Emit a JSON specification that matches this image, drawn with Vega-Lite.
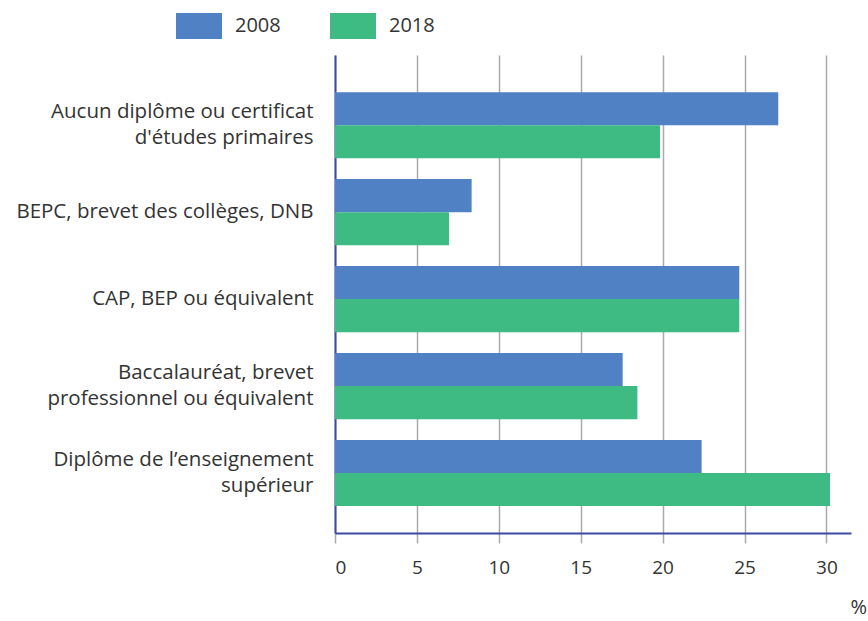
{
  "$schema": "https://vega.github.io/schema/vega-lite/v6.json",
  "autosize": {"type": "none"},
  "width": 516,
  "height": 478,
  "padding": {"left": 335, "top": 55, "right": 17, "bottom": 88},
  "background": "white",
  "config": {
    "view": {"stroke": null},
    "font": "Open Sans",
    "text": {"font": "Open Sans"}
  },
  "data": {
    "values": [
      {"diplome": "Aucun diplôme ou certificat|d'études primaires", "annee": "2008", "pct": 27.06},
      {"diplome": "Aucun diplôme ou certificat|d'études primaires", "annee": "2018", "pct": 19.84},
      {"diplome": "BEPC, brevet des collèges, DNB", "annee": "2008", "pct": 8.34},
      {"diplome": "BEPC, brevet des collèges, DNB", "annee": "2018", "pct": 6.96},
      {"diplome": "CAP, BEP ou équivalent", "annee": "2008", "pct": 24.68},
      {"diplome": "CAP, BEP ou équivalent", "annee": "2018", "pct": 24.68},
      {"diplome": "Baccalauréat, brevet|professionnel ou équivalent", "annee": "2008", "pct": 17.56},
      {"diplome": "Baccalauréat, brevet|professionnel ou équivalent", "annee": "2018", "pct": 18.46},
      {"diplome": "Diplôme de l’enseignement|supérieur", "annee": "2008", "pct": 22.38},
      {"diplome": "Diplôme de l’enseignement|supérieur", "annee": "2018", "pct": 30.22}
    ]
  },
  "mark": {"type": "bar"},
  "encoding": {
    "y": {
      "field": "diplome",
      "type": "nominal",
      "sort": [
        "Aucun diplôme ou certificat|d'études primaires",
        "BEPC, brevet des collèges, DNB",
        "CAP, BEP ou équivalent",
        "Baccalauréat, brevet|professionnel ou équivalent",
        "Diplôme de l’enseignement|supérieur"
      ],
      "scale": {"paddingInner": 0.24, "paddingOuter": 0.368, "align": 0.58},
      "axis": {
        "title": null,
        "labelExpr": "split(datum.label, '|')",
        "labelFont": "Open Sans",
        "labelFontSize": 20.5,
        "labelColor": "#333333",
        "labelLineHeight": 25.6,
        "labelPadding": 22,
        "labelLimit": 400,
        "labelOffset": {"condition": {"test": "indexof(datum.value, '|') >= 0", "value": -12.8}, "value": 0},
        "ticks": false,
        "grid": false,
        "domain": true,
        "domainColor": "#3d4aa0",
        "domainWidth": 2
      }
    },
    "yOffset": {"field": "annee", "type": "nominal", "sort": ["2008", "2018"]},
    "x": {
      "field": "pct",
      "type": "quantitative",
      "scale": {"domain": [0, 31.5], "nice": false},
      "axis": {
        "values": [0, 5, 10, 15, 20, 25, 30],
        "title": "%",
        "titleFont": "Open Sans",
        "titleFontSize": 20,
        "titleFontWeight": "normal",
        "titleColor": "#333333",
        "titleAnchor": null,
        "titleAlign": "left",
        "titleBaseline": "middle",
        "titleX": 515,
        "titleY": 74,
        "labelFont": "Open Sans",
        "labelFontSize": 19,
        "labelColor": "#333333",
        "labelPadding": 15,
        "tickSize": 10,
        "tickColor": "#aaaaaa",
        "tickWidth": 1.5,
        "domainColor": "#3d4aa0",
        "domainWidth": 2,
        "grid": true,
        "gridColor": "#aaaaaa",
        "gridWidth": 1.5
      }
    },
    "color": {
      "field": "annee",
      "type": "nominal",
      "scale": {"domain": ["2008", "2018"], "range": ["#4f81c4", "#3dbb82"]},
      "legend": {
        "title": null,
        "orient": "none",
        "direction": "horizontal",
        "legendX": -159,
        "legendY": -52,
        "symbolType": "M-1,-0.565H1V0.565H-1Z",
        "symbolSize": 2116,
        "symbolStrokeWidth": 0,
        "symbolOpacity": 1,
        "labelFont": "Open Sans",
        "labelFontSize": 20,
        "labelColor": "#333333",
        "labelOffset": 13,
        "columnPadding": 49
      }
    }
  }
}
